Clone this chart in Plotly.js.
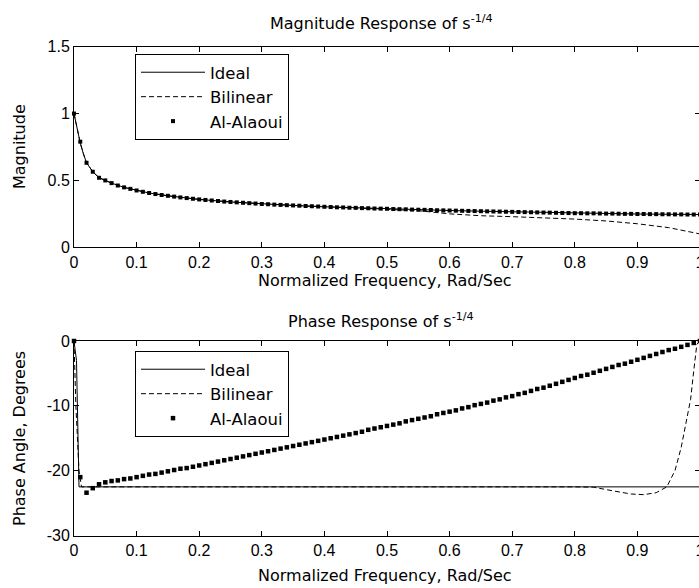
<!DOCTYPE html>
<html>
<head>
<meta charset="utf-8">
<script src="https://cdn.plot.ly/plotly-3.0.1.min.js"></script>
<style>
html,body{margin:0;padding:0;overflow:hidden;background:#ffffff;}
#chart{width:700px;height:588px;}
</style>
</head>
<body>
<div id="chart"></div>
<script>
// ---------- data ----------
var seriesNames = ["Ideal", "Bilinear", "Al-Alaoui"];

// frequency grid used by the Ideal / Bilinear magnitude lines
var lineFreq = [0, 0.005, 0.01, 0.015, 0.02, 0.03, 0.04, 0.05, 0.06, 0.08, 0.1, 0.12, 0.15, 0.2, 0.25, 0.3,
  0.35, 0.4, 0.45, 0.5, 0.55, 0.6, 0.65, 0.7, 0.75, 0.8, 0.85, 0.9, 0.95, 1.0];
var idealMag = [1.0, 0.89, 0.78, 0.70, 0.632, 0.565, 0.52, 0.50, 0.48, 0.448, 0.425, 0.406, 0.385, 0.358, 0.339, 0.324,
  0.313, 0.303, 0.295, 0.288, 0.281, 0.275, 0.270, 0.265, 0.260, 0.255, 0.252, 0.249, 0.247, 0.245];
var bilinearMag = [1.0, 0.89, 0.78, 0.70, 0.632, 0.565, 0.52, 0.50, 0.48, 0.448, 0.425, 0.406, 0.385, 0.358, 0.339, 0.324,
  0.313, 0.303, 0.295, 0.287, 0.274, 0.250, 0.236, 0.229, 0.221, 0.211, 0.197, 0.176, 0.147, 0.100];

// Al-Alaoui samples: 0, 0.01, ..., 1.0
var alaouiStart = 0, alaouiStep = 0.01;
var alaouiMag = [1.000, 0.790, 0.632, 0.565, 0.520, 0.500, 0.480, 0.462, 0.448, 0.437,
  0.425, 0.415, 0.406, 0.398, 0.391, 0.385, 0.379, 0.373, 0.368, 0.363,
  0.358, 0.354, 0.350, 0.346, 0.342, 0.339, 0.336, 0.333, 0.330, 0.327,
  0.324, 0.322, 0.319, 0.317, 0.315, 0.313, 0.311, 0.309, 0.307, 0.305,
  0.303, 0.301, 0.299, 0.298, 0.296, 0.295, 0.293, 0.292, 0.290, 0.289,
  0.288, 0.286, 0.285, 0.284, 0.282, 0.281, 0.280, 0.279, 0.277, 0.276,
  0.275, 0.274, 0.273, 0.272, 0.271, 0.270, 0.269, 0.268, 0.267, 0.266,
  0.265, 0.264, 0.263, 0.262, 0.261, 0.260, 0.259, 0.258, 0.257, 0.256,
  0.255, 0.255, 0.254, 0.254, 0.253, 0.252, 0.252, 0.251, 0.250, 0.250,
  0.249, 0.249, 0.248, 0.248, 0.247, 0.247, 0.246, 0.246, 0.245, 0.245, 0.245];
var alaouiPhase = [0, -21.0, -23.4, -22.7, -22.1, -21.8, -21.6, -21.5, -21.3, -21.2,
  -21.0, -20.8, -20.6, -20.5, -20.3, -20.1, -19.9, -19.7, -19.6, -19.4,
  -19.2, -19.0, -18.8, -18.6, -18.4, -18.2, -18.0, -17.8, -17.6, -17.4,
  -17.2, -17.0, -16.8, -16.6, -16.4, -16.2, -16.0, -15.8, -15.6, -15.4,
  -15.2, -15.0, -14.8, -14.6, -14.4, -14.2, -14.0, -13.7, -13.5, -13.3,
  -13.1, -12.9, -12.7, -12.4, -12.2, -12.0, -11.8, -11.6, -11.3, -11.1,
  -10.9, -10.7, -10.4, -10.2, -9.9, -9.7, -9.5, -9.2, -9.0, -8.7,
  -8.5, -8.2, -8.0, -7.7, -7.4, -7.2, -6.9, -6.6, -6.3, -6.0,
  -5.7, -5.4, -5.2, -4.9, -4.6, -4.3, -4.0, -3.7, -3.5, -3.2,
  -2.9, -2.6, -2.3, -2.0, -1.7, -1.4, -1.2, -0.9, -0.6, -0.3, 0.0];

var idealPhaseFreq = [0, 0.004, 0.008, 1.0];
var idealPhase = [0, -3, -22.5, -22.5];
var bilinearPhaseFreq = [0, 0.003, 0.008, 0.012, 0.8, 0.83, 0.86, 0.89, 0.91, 0.93, 0.947, 0.96, 0.97, 0.98, 0.985, 0.99, 0.995, 1.0];
var bilinearPhase = [0, -10, -20, -22.5, -22.5, -22.55, -23.1, -23.6, -23.7, -23.4, -22.5, -20.0, -16.4, -11.7, -9.0, -4.6, -0.5, 0];

var xTickVals = [0, 0.1, 0.2, 0.3, 0.4, 0.5, 0.6, 0.7, 0.8, 0.9, 1];
var xTickText = ["0", "0.1", "0.2", "0.3", "0.4", "0.5", "0.6", "0.7", "0.8", "0.9", "1"];
var magTickVals = [0, 0.5, 1, 1.5];
var magTickText = ["0", "0.5", "1", "1.5"];
var phaseTickVals = [-30, -20, -10, 0];
var phaseTickText = ["-30", "-20", "-10", "0"];

// ---------- traces ----------
var lineStyleSolid = {color: "black", width: 1};
var lineStyleDash = {color: "black", width: 1, dash: "5px,3px"};
var traces = [
  {x: lineFreq, y: idealMag, name: seriesNames[0], mode: "lines", line: lineStyleSolid, xaxis: "x", yaxis: "y", legend: "legend"},
  {x: lineFreq, y: bilinearMag, name: seriesNames[1], mode: "lines", line: lineStyleDash, xaxis: "x", yaxis: "y", legend: "legend"},
  {x0: alaouiStart, dx: alaouiStep, y: alaouiMag, name: seriesNames[2], mode: "markers", cliponaxis: false,
    marker: {symbol: "square", size: 4, color: "black"}, xaxis: "x", yaxis: "y", legend: "legend"},
  {x: idealPhaseFreq, y: idealPhase, name: seriesNames[0], mode: "lines", line: lineStyleSolid, xaxis: "x2", yaxis: "y2", legend: "legend2"},
  {x: bilinearPhaseFreq, y: bilinearPhase, name: seriesNames[1], mode: "lines", line: lineStyleDash, xaxis: "x2", yaxis: "y2", legend: "legend2"},
  {x0: alaouiStart, dx: alaouiStep, y: alaouiPhase, name: seriesNames[2], mode: "markers", cliponaxis: false,
    marker: {symbol: "square", size: 4.5, color: "black"}, xaxis: "x2", yaxis: "y2", legend: "legend2"}
];

var H = 588, L = 74, PW = 626;
function py(p) { return 1 - p / H; }
function px(p) { return (p - L) / PW; }

var tickFont = {family: "Liberation Sans, Arial, sans-serif", size: 16, color: "black"};
var textFont = {family: "DejaVu Sans, sans-serif", size: 16, color: "black"};

function xAxis(anchor) {
  return {anchor: anchor, range: [0, 1], tickvals: xTickVals, ticktext: xTickText, ticks: "inside", ticklen: 5,
    tickcolor: "black", showline: true, linecolor: "black", linewidth: 1, mirror: "ticks", showgrid: false,
    zeroline: false, tickfont: tickFont, fixedrange: true, ticklabeloverflow: "allow"};
}
function yAxis(anchor, range, vals, text, dom) {
  return {anchor: anchor, domain: dom, range: range, tickvals: vals, ticktext: text, ticks: "inside", ticklen: 5,
    tickcolor: "black", showline: true, linecolor: "black", linewidth: 1, mirror: "ticks", showgrid: false,
    zeroline: false, tickfont: tickFont, fixedrange: true, ticklabeloverflow: "allow"};
}

var legendBase = {xanchor: "left", yanchor: "top", bgcolor: "white", bordercolor: "black", borderwidth: 1,
  font: {family: "DejaVu Sans, sans-serif", size: 16.5, color: "black"}, itemwidth: 64, traceorder: "normal"};

var layout = {
  width: 700, height: 588,
  margin: {l: L, r: 0, t: 0, b: 0, pad: 0},
  paper_bgcolor: "white", plot_bgcolor: "white",
  showlegend: true,
  xaxis: xAxis("y"),
  yaxis: yAxis("x", [0, 1.5], magTickVals, magTickText, [py(247.3), py(46.7)]),
  xaxis2: xAxis("y2"),
  yaxis2: yAxis("x2", [-30, 0], phaseTickVals, phaseTickText, [py(535.5), py(341)]),
  legend: Object.assign({}, legendBase, {x: px(135), y: py(54)}),
  legend2: Object.assign({}, legendBase, {x: px(135), y: py(351)}),
  annotations: [
    {text: "Magnitude Response of s<sup>-1/4</sup>", xref: "paper", yref: "paper", x: px(381), y: py(22), showarrow: false, font: textFont, xanchor: "center", yanchor: "middle"},
    {text: "Phase Response of s<sup>-1/4</sup>", xref: "paper", yref: "paper", x: px(381), y: py(320), showarrow: false, font: textFont, xanchor: "center", yanchor: "middle"},
    {text: "Normalized Frequency, Rad/Sec", xref: "paper", yref: "paper", x: px(385), y: py(281), showarrow: false, font: textFont, xanchor: "center", yanchor: "middle"},
    {text: "Normalized Frequency, Rad/Sec", xref: "paper", yref: "paper", x: px(385), y: py(575), showarrow: false, font: textFont, xanchor: "center", yanchor: "middle"},
    {text: "Magnitude", xref: "paper", yref: "paper", x: px(19), y: py(147), textangle: -90, showarrow: false, font: textFont, xanchor: "center", yanchor: "middle"},
    {text: "Phase Angle, Degrees", xref: "paper", yref: "paper", x: px(19), y: py(439), textangle: -90, showarrow: false, font: textFont, xanchor: "center", yanchor: "middle"}
  ]
};

Plotly.newPlot("chart", traces, layout, {displayModeBar: false, staticPlot: true});
</script>
</body>
</html>
